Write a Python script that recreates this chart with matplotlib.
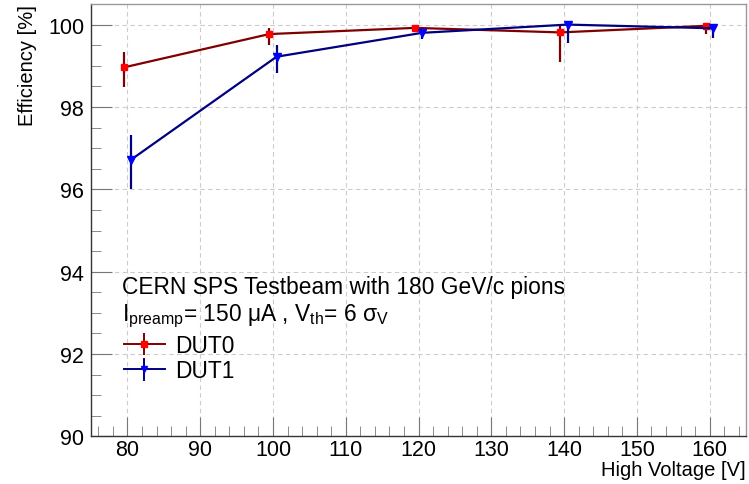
import numpy as np
import matplotlib
matplotlib.use("Agg")
import matplotlib.pyplot as plt
from matplotlib.ticker import MultipleLocator

plt.rcParams['font.family'] = ['Liberation Sans', 'DejaVu Sans']
plt.rcParams['mathtext.fontset'] = 'custom'
plt.rcParams['mathtext.rm'] = 'Liberation Sans'
plt.rcParams['mathtext.it'] = 'Liberation Sans:italic'

# high voltage points [V] (markers drawn slightly shifted per DUT)
hv_dut0 = [79.5, 99.5, 119.5, 139.5, 159.5]
hv_dut1 = [80.5, 100.5, 120.5, 140.5, 160.5]

# efficiency [%] with asymmetric errors
eff_dut0 = [98.96, 99.77, 99.92, 99.81, 99.97]
err_lo_dut0 = [0.47, 0.26, 0.11, 0.72, 0.19]
err_hi_dut0 = [0.38, 0.15, 0.05, 0.19, 0.03]

eff_dut1 = [96.72, 99.22, 99.80, 100.0, 99.91]
err_lo_dut1 = [0.72, 0.39, 0.15, 0.44, 0.23]
err_hi_dut1 = [0.59, 0.28, 0.08, 0.0, 0.09]

fig = plt.figure(figsize=(7.49, 4.85), dpi=100)
ax = fig.add_axes([0.1215, 0.098, 0.8745, 0.8917])

ax.errorbar(hv_dut0, eff_dut0, yerr=[err_lo_dut0, err_hi_dut0], color='#800000',
            lw=1.6, elinewidth=1.6, marker='s', ms=5, mfc='#ff0000', mec='#ff0000',
            capsize=0, zorder=3)
ax.errorbar(hv_dut1, eff_dut1, yerr=[err_lo_dut1, err_hi_dut1], color='#000080',
            lw=1.6, elinewidth=1.6, marker='v', ms=5.5, mfc='#0000ff', mec='#0000ff',
            capsize=0, zorder=4)

# legend proxies (with caps, like the ROOT legend)
h0 = ax.errorbar([], [], yerr=[[], []], color='#800000', lw=1.4, marker='s', ms=4,
                 mfc='#ff0000', mec='#ff0000', capsize=3.5)
h1 = ax.errorbar([], [], yerr=[[], []], color='#000080', lw=1.4, marker='v', ms=4,
                 mfc='#0000ff', mec='#0000ff', capsize=3.5)

ax.set_xlim(75, 165)
ax.set_ylim(90, 100.5)
ax.xaxis.set_major_locator(MultipleLocator(10))
ax.xaxis.set_minor_locator(MultipleLocator(2))
ax.yaxis.set_major_locator(MultipleLocator(2))
ax.yaxis.set_minor_locator(MultipleLocator(0.5))

ax.grid(True, which='major', ls=(0, (4, 3)), color='#cccccc', lw=0.8)
ax.tick_params(which='both', direction='in', top=False, right=False,
               color='#777777', labelsize=15.5)
ax.tick_params(axis='y', which='major', length=15, pad=5)
ax.tick_params(axis='y', which='minor', length=7.5)
ax.tick_params(axis='x', which='major', length=14, pad=2)
ax.tick_params(axis='x', which='minor', length=7)

for s in ['left', 'bottom']:
    ax.spines[s].set_color('#333333')
    ax.spines[s].set_linewidth(1.0)
for s in ['top', 'right']:
    ax.spines[s].set_color('#999999')
    ax.spines[s].set_linewidth(1.0)

ax.set_xlabel('High Voltage [V]', fontsize=14.5, loc='right', labelpad=0)
ax.set_ylabel('Efficiency [%]', fontsize=14.5, loc='top', labelpad=8)

ax.text(0.048, 0.346, 'CERN SPS Testbeam with 180 GeV/c pions', transform=ax.transAxes,
        fontsize=16.4, va='center', ha='left')
ax.text(0.048, 0.28, r'I$_{\rm preamp}$= 150 μA , V$_{\rm th}$= 6 σ$_{\rm V}$',
        transform=ax.transAxes, fontsize=16.4, va='center', ha='left')

ax.legend([h0, h1], ['DUT0', 'DUT1'], loc='upper left', bbox_to_anchor=(0.026, 0.274),
          frameon=False, fontsize=16.4, handlelength=1.8, handletextpad=0.45,
          labelspacing=0.1, borderpad=0.2)

fig.savefig('out.png', dpi=100)
